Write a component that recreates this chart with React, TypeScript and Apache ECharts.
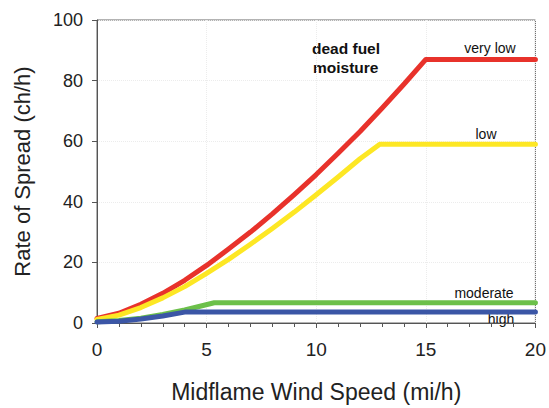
import React, { useEffect, useRef } from "react";
import * as echarts from "echarts";

// Midflame wind speed (mi/h) and rate of spread (ch/h) per dead fuel moisture class
const veryLowX = [0, 1, 2, 3, 4, 5, 6, 7, 8, 9, 10, 11, 12, 13, 14, 15, 20];
const veryLowY = [1.5, 3.2, 6.2, 9.8, 14.1, 19, 24.4, 30, 36, 42.4, 49, 56, 63.2, 70.9, 78.8, 87, 87];

const lowX = [0, 1, 2, 3, 4, 5, 6, 7, 8, 9, 10, 11, 12, 12.9, 20];
const lowY = [1.2, 2.6, 5.1, 8.3, 12, 16.4, 21, 26, 31.2, 36.6, 42.3, 48.2, 54.2, 59, 59];

const moderateX = [0, 1, 2, 3, 4, 5.35, 20];
const moderateY = [0.4, 0.8, 1.6, 2.8, 4.3, 6.7, 6.7];

const highX = [0, 1, 2, 3, 4, 20];
const highY = [0.3, 0.6, 1.3, 2.3, 3.6, 3.6];

const xTicks = [0, 5, 10, 15, 20];
const yTicks = [0, 20, 40, 60, 80, 100];

const seriesNames = ["very low", "low", "moderate", "high"];
const seriesColors = ["#e8322b", "#fde724", "#6cc04a", "#3b56a6"];

const pairs = (xs: number[], ys: number[]) => xs.map((x, i) => [x, ys[i]]);

export default function App() {
  const ref = useRef<HTMLDivElement>(null);

  useEffect(() => {
    document.body.style.margin = "0";
    if (!ref.current) return;
    const chart = echarts.init(ref.current, null, { renderer: "svg" });
    const data = [
      pairs(veryLowX, veryLowY),
      pairs(lowX, lowY),
      pairs(moderateX, moderateY),
      pairs(highX, highY),
    ];
    const font = "Liberation Sans, Arial, sans-serif";
    const lbl = (text: string, x: number, y: number) => ({
      type: "text",
      x,
      y,
      style: { text, font: `14px ${font}`, fill: "#111", align: "center", verticalAlign: "middle" },
    });
    chart.setOption({
      animation: false,
      backgroundColor: "#ffffff",
      textStyle: { fontFamily: font },
      grid: {
        left: 97,
        right: 12,
        top: 20,
        bottom: 82,
        show: true,
        borderColor: "#666",
        borderWidth: 1,
      },
      xAxis: {
        type: "value",
        min: xTicks[0],
        max: xTicks[xTicks.length - 1],
        interval: 5,
        name: "Midflame Wind Speed (mi/h)",
        nameLocation: "middle",
        nameGap: 57,
        nameTextStyle: { fontSize: 23, color: "#222", fontFamily: font },
        axisLine: { show: true, lineStyle: { color: "#555", width: 1 } },
        axisTick: { show: true, length: 5, lineStyle: { color: "#555" } },
        minorTick: { show: true, splitNumber: 5, length: 4, lineStyle: { color: "#555" } },
        axisLabel: { fontSize: 19, color: "#222", margin: 17, fontFamily: font },
        splitLine: { show: true, lineStyle: { color: "#ececec", type: "dotted" } },
      },
      yAxis: {
        type: "value",
        min: yTicks[0],
        max: yTicks[yTicks.length - 1],
        interval: 20,
        name: "Rate of Spread (ch/h)",
        nameLocation: "middle",
        nameGap: 64,
        nameRotate: 90,
        nameTextStyle: { fontSize: 22, color: "#222", fontFamily: font },
        axisLine: { show: true, lineStyle: { color: "#555", width: 1 } },
        axisTick: { show: true, length: 5, lineStyle: { color: "#555" } },
        axisLabel: { fontSize: 18, color: "#222", margin: 14, fontFamily: font },
        splitLine: { show: true, lineStyle: { color: "#ececec", type: "dotted" } },
      },
      series: data.map((d, i) => ({
        name: seriesNames[i],
        type: "line",
        data: d,
        showSymbol: false,
        symbol: "none",
        lineStyle: { color: seriesColors[i], width: 5, cap: "round", join: "round" },
        z: 2 + i,
      })),
      graphic: [
        { type: "text", x: 312, y: 48, style: { text: "dead fuel", font: `bold 15.5px ${font}`, fill: "#111", align: "left", verticalAlign: "middle" } },
        { type: "text", x: 313, y: 67, style: { text: "moisture", font: `bold 15.5px ${font}`, fill: "#111", align: "left", verticalAlign: "middle" } },
        lbl("very low", 490, 48),
        lbl("low", 486, 134),
        lbl("moderate", 484, 293),
        lbl("high", 501, 319),
      ],
    });
    return () => chart.dispose();
  }, []);

  return <div ref={ref} style={{ width: 549, height: 408 }} />;
}
